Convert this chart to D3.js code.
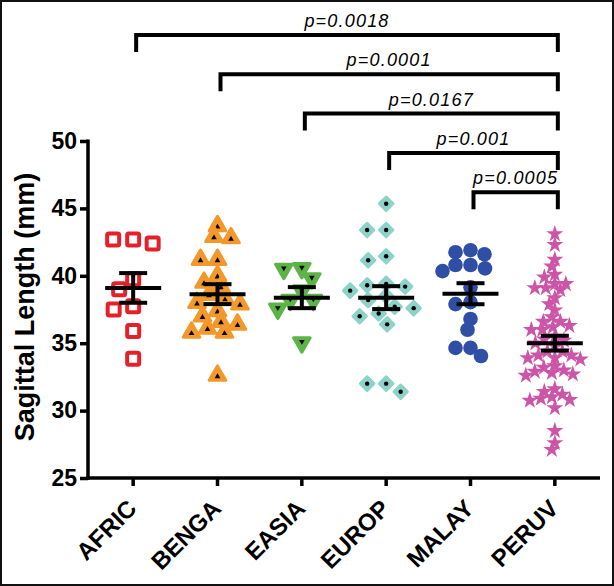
<!DOCTYPE html>
<html><head><meta charset="utf-8">
<script src="https://cdn.jsdelivr.net/npm/d3@7"></script>
<style>body{margin:0;background:#fff}svg{display:block;font-family:"Liberation Sans",Arial,sans-serif}</style>
</head><body><svg id="c" width="614" height="586"></svg>
<script>
const categories = ["AFRIC","BENGA","EASIA","EUROP","MALAY","PERUV"];
const afric = [42.7, 42.4, 42.7, 39.75, 39.0, 37.75, 37.5, 35.9, 33.85];
const benga = [43.7, 42.8, 42.9, 41.2, 41.2, 40.0, 39.2, 39.5, 38.3, 38.0, 37.9, 37.4, 37.0, 36.4, 36.1, 35.8, 35.8, 32.6, 38.6, 36.6];
const easia = [40.55, 40.5, 39.8, 38.9, 38.2, 38.2, 37.55, 35.05];
const europ = [45.35, 43.4, 43.4, 41.45, 41.15, 39.3, 39.4, 39.2, 38.9, 37.6, 37.7, 37.0, 36.4, 37.2, 32.0, 32.0, 31.4, 38.5, 38.2];
const malay = [41.75, 41.6, 41.9, 40.8, 40.55, 40.8, 40.35, 39.15, 38.05, 37.9, 36.8, 36.0, 34.65, 34.05, 34.65];
const peruv = [43.1, 42.3, 41.2, 40.7, 40.1, 39.9,
  39.4, 39.1, 38.95, 39.1, 39.4, 38.35, 37.9, 37.45, 36.95,
  36.6, 36.3, 36.0, 36.6, 36.2, 36.0, 35.5, 35.3, 35.0, 34.8, 35.2,
  34.4, 34.1, 33.9, 33.8, 33.9, 34.1, 34.4,
  33.3, 33.0, 32.8, 32.6, 32.7, 32.9, 33.2,
  31.6, 31.2, 30.9, 30.75, 30.8, 31.0, 31.4, 30.2, 28.5, 27.1, 27.6];
const means = [39.1, 38.64, 38.38, 38.38, 38.67, 35.0];
const sems = [1.1, 0.74, 0.78, 0.85, 0.78, 0.55];
const yTicks = [25, 30, 35, 40, 45, 50];
const comparisons = [["AFRIC","PERUV"],["BENGA","PERUV"],["EASIA","PERUV"],["EUROP","PERUV"],["MALAY","PERUV"]];
const pLabels = ["p=0.0018","p=0.0001","p=0.0167","p=0.001","p=0.0005"];

const series = [afric, benga, easia, europ, malay, peruv];
const svg = d3.select("#c");
const x = d3.scaleBand().domain(categories).range([91, 597]).padding(0);
const cx = c => x(c) + x.bandwidth() / 2;
const y = d3.scaleLinear().domain([25, 50]).range([478, 141]);

// frame
svg.append("rect").attr("x", 1).attr("y", 1).attr("width", 612).attr("height", 584)
  .attr("fill", "none").attr("stroke", "#111").attr("stroke-width", 2);

// axes
const ya = svg.append("g").attr("transform", "translate(88,0)")
  .call(d3.axisLeft(y).tickValues(yTicks).tickSize(8).tickSizeOuter(0).tickPadding(3));
ya.select(".domain").remove();
ya.selectAll("line").attr("stroke", "#000").attr("stroke-width", 3.5);
ya.selectAll("text").attr("font-size", 23).attr("font-weight", "bold").attr("fill", "#000")
  .style("font-family", '"Liberation Sans",Arial,sans-serif');
svg.append("line").attr("x1", 88).attr("x2", 88).attr("y1", y(50) - 1.5).attr("y2", y(25) + 1.7)
  .attr("stroke", "#000").attr("stroke-width", 3.5);

const xa = svg.append("g").attr("transform", "translate(0,478)")
  .call(d3.axisBottom(x).tickSize(8).tickSizeOuter(0));
xa.select(".domain").remove();
xa.selectAll("line").attr("stroke", "#000").attr("stroke-width", 3.5);
xa.selectAll("text").remove();
svg.append("line").attr("x1", 86.3).attr("x2", 600).attr("y1", 478).attr("y2", 478)
  .attr("stroke", "#000").attr("stroke-width", 3.5);
categories.forEach(c => {
  svg.append("text").attr("transform", `translate(${cx(c) - 1},${504}) rotate(-45)`)
    .attr("text-anchor", "end").attr("dy", "0.35em")
    .attr("font-size", 24).attr("font-weight", "bold").text(c);
});
svg.append("text").attr("transform", "translate(34,307) rotate(-90)").attr("text-anchor", "middle")
  .attr("font-size", 27).attr("font-weight", "bold").text("Sagittal Length (mm)");

// scatter layout: points spread sideways when they would overlap (elliptical footprint)
function swarm(vals, W, H) {
  const order = vals.map((v, i) => i).sort((a, b) => vals[b] - vals[a]);
  const placed = [];
  const off = new Array(vals.length).fill(0);
  order.forEach(i => {
    const py = y(vals[i]);
    for (let k = 0; k < 600; k++) {
      const o = (k % 2 ? -1 : 1) * Math.ceil(k / 2) * 0.5;
      let ok = true;
      for (const p of placed) {
        const dx = (p[0] - o) / W, dy = (p[1] - py) / H;
        if (dx * dx + dy * dy < 1) { ok = false; break; }
      }
      if (ok) { off[i] = o; placed.push([o, py]); break; }
    }
  });
  return off;
}

const styles = [
  {W: 20, H: 14, draw: (g) => g.append("rect").attr("x", -6).attr("y", -6).attr("width", 12).attr("height", 12)
      .attr("fill", "#fff").attr("stroke", "#e4212b").attr("stroke-width", 4).attr("rx", 1.5)},
  {W: 17, H: 11, draw: (g) => { g.append("path").attr("d", d3.symbol(d3.symbolTriangle, 120)()).attr("fill", "#f3982a")
      .attr("stroke", "#f3982a").attr("stroke-width", 3).attr("stroke-linejoin", "round");
      g.append("path").attr("d", d3.symbol(d3.symbolTriangle, 14)()).attr("transform", "translate(0,1)").attr("fill", "#000"); }},
  {W: 18, H: 12, draw: (g) => { g.append("path").attr("d", d3.symbol(d3.symbolTriangle, 120)()).attr("transform", "rotate(180)").attr("fill", "#5cb446")
      .attr("stroke", "#5cb446").attr("stroke-width", 3).attr("stroke-linejoin", "round");
      g.append("path").attr("d", d3.symbol(d3.symbolTriangle, 14)()).attr("transform", "translate(0,-1) rotate(180)").attr("fill", "#000"); }},
  {W: 19, H: 12, draw: (g) => { g.append("path").attr("d", d3.symbol(d3.symbolSquare, 90)()).attr("transform", "rotate(45)").attr("fill", "#8dd3ca")
      .attr("stroke", "#8dd3ca").attr("stroke-width", 3).attr("stroke-linejoin", "round");
      g.append("circle").attr("r", 2.2).attr("fill", "#000"); }},
  {W: 15, H: 11, draw: (g) => g.append("circle").attr("r", 7.3).attr("fill", "#2f4fa6")},
  {W: 11, H: 7, draw: (g) => g.append("path").attr("d", d3.symbol(d3.symbolStar, 90)()).attr("fill", "#cc55a8")}
];

series.forEach((vals, si) => {
  const c = categories[si];
  const off = swarm(vals, styles[si].W, styles[si].H);
  const g = svg.append("g");
  vals.forEach((v, i) => {
    const m = g.append("g").attr("transform", `translate(${cx(c) + off[i]},${y(v)})`);
    styles[si].draw(m);
  });
});

// mean and SEM
categories.forEach((c, i) => {
  const g = svg.append("g").attr("stroke", "#000").attr("stroke-width", 4);
  const X = cx(c);
  g.append("line").attr("x1", X - 28).attr("x2", X + 28).attr("y1", y(means[i])).attr("y2", y(means[i]));
  g.append("line").attr("x1", X).attr("x2", X).attr("y1", y(means[i] + sems[i])).attr("y2", y(means[i] - sems[i]));
  [1, -1].forEach(s => g.append("line").attr("x1", X - 14).attr("x2", X + 14)
    .attr("y1", y(means[i] + s * sems[i])).attr("y2", y(means[i] + s * sems[i])));
});

// significance brackets
comparisons.forEach((pair, i) => {
  const top = 35 + i * 39.3;
  const x1 = cx(pair[0]) + 3, x2 = cx(pair[1]) + 3;
  svg.append("path").attr("d", `M${x1},${top + 17}V${top}H${x2}V${top + 17}`)
    .attr("fill", "none").attr("stroke", "#000").attr("stroke-width", 4);
  svg.append("text").attr("x", (x1 + x2) / 2).attr("y", top - 8).attr("text-anchor", "middle")
    .attr("font-size", 18).attr("font-style", "italic").attr("letter-spacing", 1.2).text(pLabels[i]);
});
</script></body></html>
